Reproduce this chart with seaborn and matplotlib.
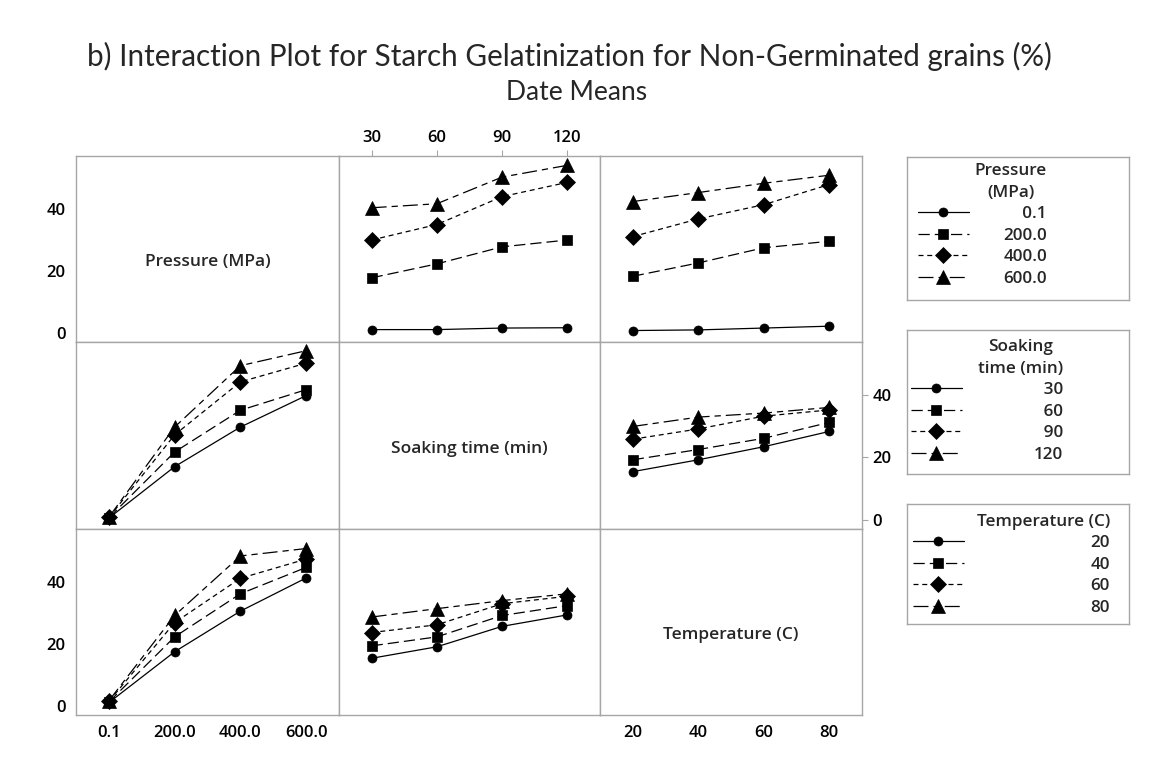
import matplotlib
matplotlib.use("Agg")
import matplotlib.pyplot as plt
import pandas as pd
import seaborn as sns

# factor levels
pressure_levels = ["0.1", "200.0", "400.0", "600.0"]
soak_levels = ["30", "60", "90", "120"]
temp_levels = ["20", "40", "60", "80"]

# means (one list per line, in level order)
press_by_soak = [[1.0, 1.0, 1.5, 1.6],
                 [17.7, 22.2, 27.7, 29.9],
                 [29.9, 34.9, 43.9, 48.5],
                 [40.3, 41.6, 50.2, 54.0]]
press_by_temp = [[0.7, 0.9, 1.5, 2.1],
                 [18.2, 22.5, 27.4, 29.5],
                 [31.0, 36.7, 41.3, 47.8],
                 [42.3, 45.2, 48.2, 50.8]]
soak_by_press = [[0.5, 17.0, 29.7, 39.8],
                 [0.6, 21.7, 35.1, 41.7],
                 [0.7, 27.2, 44.2, 50.2],
                 [0.8, 29.7, 49.4, 54.2]]
soak_by_temp = [[15.4, 19.2, 23.4, 28.3],
                [19.2, 22.5, 26.1, 31.2],
                [25.8, 29.1, 33.2, 35.2],
                [29.9, 32.9, 34.2, 36.0]]
temp_by_press = [[1.0, 17.4, 30.5, 41.2],
                 [1.2, 22.2, 36.1, 44.6],
                 [1.4, 26.8, 41.1, 47.3],
                 [1.6, 29.1, 48.3, 50.7]]
temp_by_soak = [[15.3, 19.0, 25.6, 29.3],
                [19.3, 22.2, 29.1, 32.3],
                [23.6, 26.1, 32.9, 35.3],
                [28.6, 31.3, 33.9, 36.1]]

sns.set_style("white")
plt.rcParams["font.family"] = ["Open Sans", "DejaVu Sans"]

W, H = 1153, 769
fig = plt.figure(figsize=(W / 100, H / 100), dpi=100)
GRAY = "#a6a6a6"

# marker, size, linestyle for level 1..4 (Minitab look)
styles = [("o", 6.5, "-"),
          ("s", 7, (0, (9, 4))),
          ("D", 8, (0, (4, 3))),
          ("^", 10, (0, (12, 4, 5, 4)))]

xe = [76, 339, 600, 862]
ye = [156, 342, 529, 715]


def make_ax(r, c):
    ax = fig.add_axes([xe[c] / W, 1 - ye[r + 1] / H,
                       (xe[c + 1] - xe[c]) / W, (ye[r + 1] - ye[r]) / H])
    ax.set_xlim(-0.5, 3.5)
    ax.set_ylim(-3, 57)
    for s in ax.spines.values():
        s.set_color(GRAY)
        s.set_linewidth(1)
    return ax


def draw(ax, vals, levels):
    for lvl, ys, (m, ms, ls) in zip(levels, vals, styles):
        df = pd.DataFrame({"x": range(len(ys)), "y": ys})
        sns.lineplot(data=df, x="x", y="y", ax=ax, color="k", marker=m,
                     markersize=ms, markeredgecolor="k", markeredgewidth=0.5,
                     linestyle=ls, linewidth=0.9, label=lvl, legend=False)
    ax.set_xlabel("")
    ax.set_ylabel("")


axes = {}
for r in range(3):
    for c in range(3):
        axes[r, c] = make_ax(r, c)

draw(axes[0, 1], press_by_soak, pressure_levels)
draw(axes[0, 2], press_by_temp, pressure_levels)
draw(axes[1, 0], soak_by_press, soak_levels)
draw(axes[1, 2], soak_by_temp, soak_levels)
draw(axes[2, 0], temp_by_press, temp_levels)
draw(axes[2, 1], temp_by_soak, temp_levels)

for a in axes.values():
    a.set_xticks([])
    a.set_yticks([])
    a.tick_params(colors=GRAY, labelcolor="black", length=4, width=0.8,
                  labelsize=12)

# tick layout like the Minitab matrix
ax = axes[0, 0]
ax.set_yticks([0, 20, 40])
ax = axes[2, 0]
ax.set_yticks([0, 20, 40])
ax.set_xticks(range(4), pressure_levels)
ax = axes[0, 1]
ax.set_xticks(range(4), soak_levels)
ax.tick_params(axis="x", top=True, bottom=False, labeltop=True, labelbottom=False)
ax = axes[2, 2]
ax.set_xticks(range(4), temp_levels)
ax = axes[1, 2]
ax.set_yticks([0, 20, 40])
ax.tick_params(axis="y", left=False, right=True, labelleft=False, labelright=True)
for a in axes.values():
    for t in a.get_xticklabels() + a.get_yticklabels():
        t.set_fontweight("semibold")

names = ["Pressure (MPa)", "Soaking time (min)", "Temperature (C)"]
for i, n in enumerate(names):
    axes[i, i].text(0.5, 0.43, n, transform=axes[i, i].transAxes, ha="center",
                    va="center", fontsize=12.5, fontweight="semibold")

fig.text(569 / W, 1 - 56 / H,
         "b) Interaction Plot for Starch Gelatinization for Non-Germinated grains (%)",
         ha="center", va="center", fontsize=21.3, family=["Lato", "DejaVu Sans"])
fig.text(577 / W, 1 - 92 / H, "Date Means", ha="center", va="center",
         fontsize=19, family=["Lato", "DejaVu Sans"])

# legend boxes
fs = "\u2007"
legends = [
    (axes[0, 2], [fs + fs + "0.1", "200.0", "400.0", "600.0"], "Pressure\n(MPa)",
     (907, 157, 1129, 300), 1047, 163, 2.0),
    (axes[1, 2], [fs + "30", fs + "60", fs + "90", "120"], "Soaking\ntime (min)",
     (907, 330, 1129, 474), 1063, 339, 4.2),
    (axes[2, 1], ["20", "40", "60", "80"], "Temperature (C)",
     (907, 504, 1129, 624), 1110, 514, 7.4),
]
for src, labels, title, box, xr, yt, pad in legends:
    lax = fig.add_axes([box[0] / W, 1 - box[3] / H, (box[2] - box[0]) / W,
                        (box[3] - box[1]) / H])
    lax.set_xticks([])
    lax.set_yticks([])
    for s in lax.spines.values():
        s.set_color(GRAY)
        s.set_linewidth(1)
    handles = src.get_lines()[:4]
    leg = lax.legend(handles, labels, title=title, loc="upper right",
                     bbox_to_anchor=(xr / W, 1 - yt / H),
                     bbox_transform=fig.transFigure, frameon=False,
                     alignment="right", handlelength=3.0, handletextpad=pad,
                     labelspacing=0.32, borderpad=0, borderaxespad=0,
                     prop={"size": 12.3, "weight": "semibold"},
                     title_fontproperties={"size": 12.3, "weight": "semibold"})
    leg.get_title().set_multialignment("center")
    leg.get_title().set_linespacing(1.5)

fig.savefig("out.png", dpi=100)
